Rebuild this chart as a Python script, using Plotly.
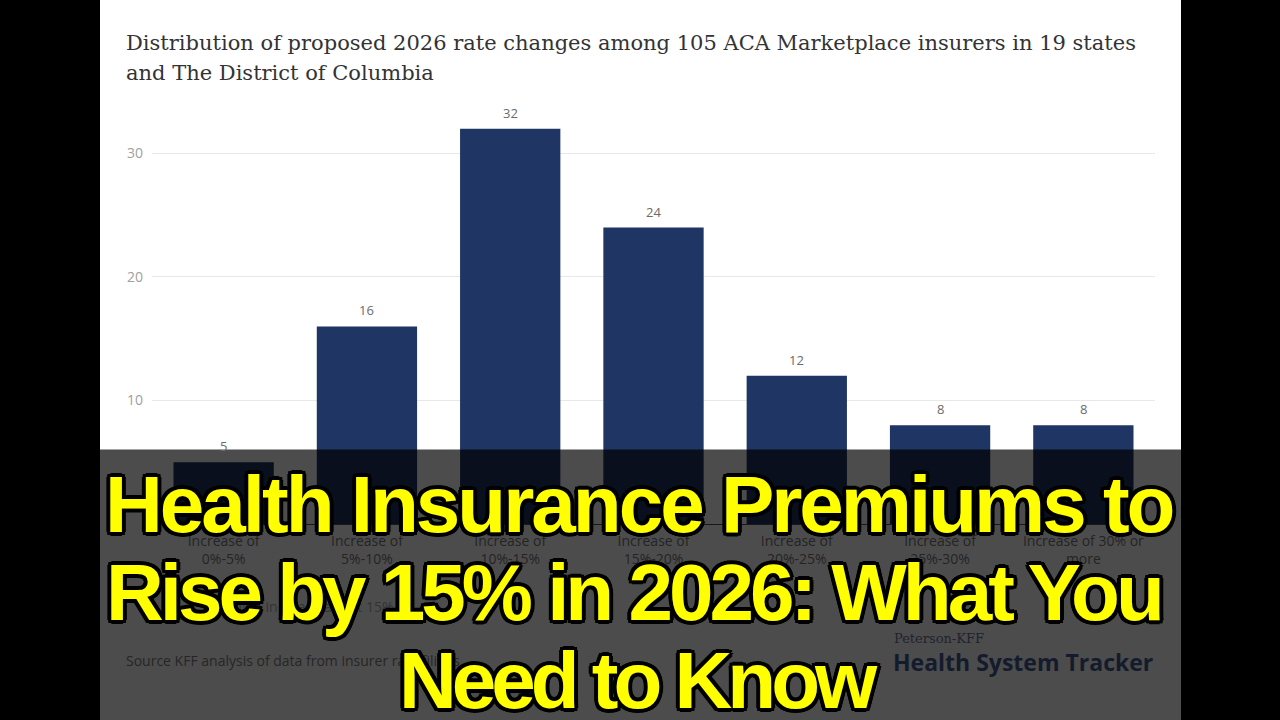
import plotly.graph_objects as go

W, H = 1280, 720
ML, MR, MT, MB = 152, 125, 91, 196

categories = ["Increase of<br>0%-5%", "Increase of<br>5%-10%", "Increase of<br>10%-15%",
              "Increase of<br>15%-20%", "Increase of<br>20%-25%", "Increase of<br>25%-30%",
              "Increase of 30% or<br>more"]
insurers = [5, 16, 32, 24, 12, 8, 8]
y_ticks = [10, 20, 30]

title_lines = ["Distribution of proposed 2026 rate changes among 105 ACA Marketplace insurers in 19 states",
               "and The District of Columbia"]
headline = ["Health Insurance Premiums to", "Rise by 15% in 2026: What You", "Need to Know"]
note_text = "Median increase about 15%"
source_text = "Source KFF analysis of data from insurer rate filings"

PW = W - ML - MR
PH = H - MT - MB


def px(x):
    return (x - ML) / PW


def py(y):
    return 1 - (y - MT) / PH


fig = go.Figure()
fig.add_trace(go.Bar(
    x=categories, y=insurers, marker=dict(color="#1f3563", line=dict(width=0)),
    hoverinfo="skip",
))

shapes = [
    dict(type="rect", xref="paper", yref="paper", x0=px(100), x1=px(1181), y0=py(720), y1=py(0),
         fillcolor="white", line=dict(width=0), layer="below"),
    dict(type="rect", xref="paper", yref="paper", x0=px(100), x1=px(1181), y0=py(720), y1=py(449.5),
         fillcolor="rgba(0,0,0,0.70)", line=dict(width=0), layer="above"),
]

outline = ", ".join(f"{dx}px {dy}px 0 #000" for dx, dy in
                    [(-3, -3), (3, -3), (-3, 3), (3, 3), (0, 3), (0, -3), (3, 0), (-3, 0),
                     (-2, 3), (2, 3), (-2, -3), (2, -3), (3, 2), (3, -2), (-3, 2), (-3, -2),
                     (0, 4), (0, -4), (4, 0), (-4, 0)])

annotations = []
for c, v in zip(categories, insurers):
    annotations.append(dict(text=str(v), x=c, y=v, xref="x", yref="y", yanchor="bottom",
                            yshift=5, showarrow=False,
                            font=dict(family="Open Sans", size=13, color="#6b6b6b")))

for i, line in enumerate(title_lines):
    annotations.append(dict(text=line, xref="paper", yref="paper", x=px(124), y=py(43 + 30 * i),
                            xanchor="left", yanchor="middle", showarrow=False,
                            font=dict(family="DejaVu Serif", size=21, color="#333333")))

annotations.append(dict(text=note_text, xref="paper", yref="paper", x=px(395), y=py(606),
                        xanchor="right", yanchor="middle", showarrow=False,
                        font=dict(family="Open Sans", size=14, color="#333333")))
annotations.append(dict(text=source_text, xref="paper", yref="paper", x=px(124), y=py(660),
                        xanchor="left", yanchor="middle", showarrow=False,
                        font=dict(family="Open Sans", size=14, color="#262626")))
annotations.append(dict(text="Peterson-KFF", xref="paper", yref="paper", x=px(892), y=py(638),
                        xanchor="left", yanchor="middle", showarrow=False,
                        font=dict(family="DejaVu Serif", size=13, color="#1e2330")))
annotations.append(dict(text="<b>Health System Tracker</b>", xref="paper", yref="paper", x=px(891), y=py(662),
                        xanchor="left", yanchor="middle", showarrow=False,
                        font=dict(family="Open Sans", size=23, color="#141b2c")))

spacing = [-3, -4, -5]
centers = [639, 633, 638]
for i, line in enumerate(headline):
    annotations.append(dict(text=f'<span style="letter-spacing:{spacing[i]}px">{line}</span>',
                            xref="paper", yref="paper", x=px(centers[i]), y=py(504 + 88 * i),
                            xanchor="center", yanchor="middle", showarrow=False,
                            font=dict(family="Liberation Sans, Arial", size=80,
                                      color="#ffff00", weight=700, shadow=outline)))

fig.update_layout(
    width=W, height=H, margin=dict(l=ML, r=MR, t=MT, b=MB),
    paper_bgcolor="black", plot_bgcolor="white",
    showlegend=False, bargap=0.3,
    shapes=shapes, annotations=annotations,
    xaxis=dict(showgrid=False, showline=True, linecolor="#555555", linewidth=1, ticks="",
               ticklabelstandoff=4,
               tickfont=dict(family="Open Sans", size=14, color="#7a7a7a"), fixedrange=True),
    yaxis=dict(range=[0, 35.06], tickvals=y_ticks, showgrid=True, gridcolor="#e8e8e8",
               zeroline=False, showline=False, ticks="", ticklabelstandoff=8,
               tickfont=dict(family="Open Sans", size=14, color="#a0a0a0"), fixedrange=True),
)

fig.write_html("out.html", config={"displayModeBar": False})
